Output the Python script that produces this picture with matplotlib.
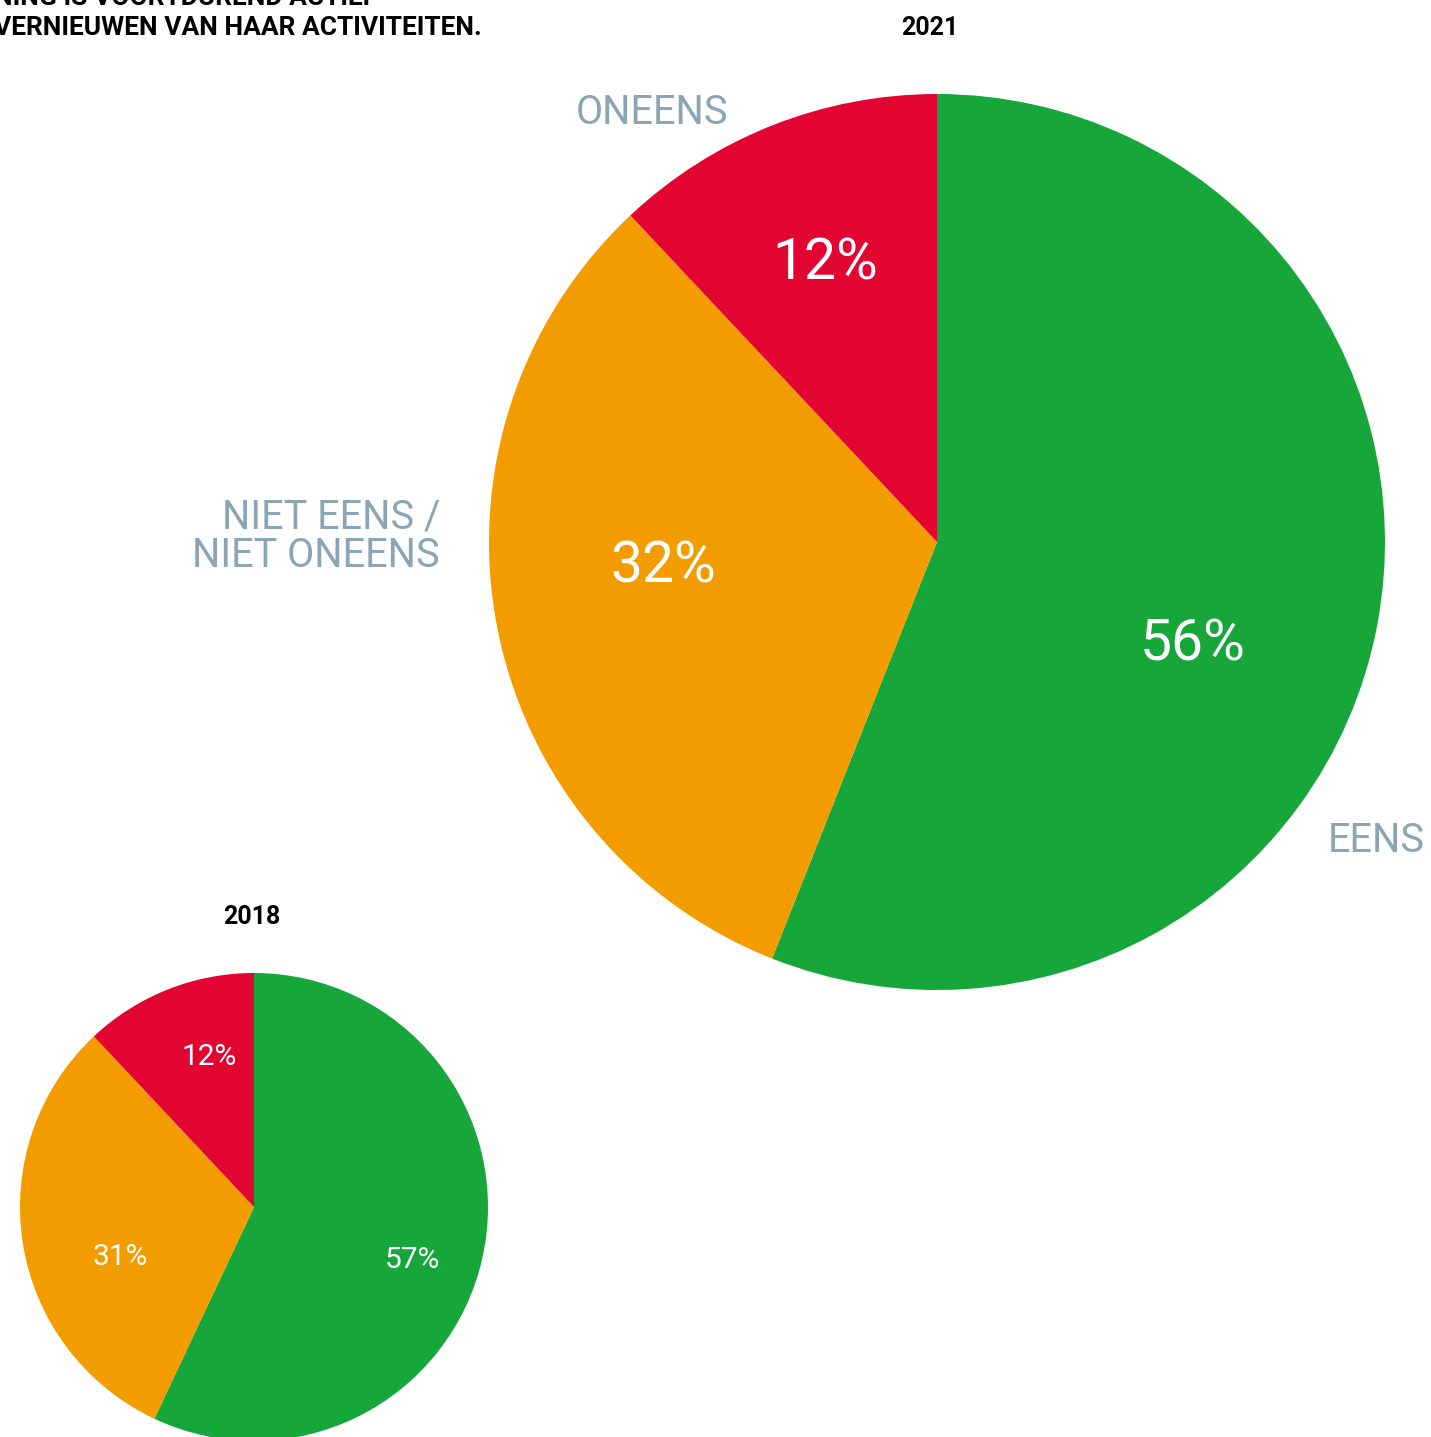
import matplotlib.pyplot as plt

categories = ['EENS', 'NIET EENS /\nNIET ONEENS', 'ONEENS']
values_2021 = [56, 32, 12]
values_2018 = [57, 31, 12]
colors = ['#17a63a', '#f39c00', '#e30531']
title_lines = ['NING IS VOORTDUREND ACTIEF', 'VERNIEUWEN VAN HAAR ACTIVITEITEN.']

W, H = 1431, 1437
fig = plt.figure(figsize=(W / 100, H / 100), dpi=100)
fig.patch.set_facecolor('white')


def pie_axes(cx, cy, r):
    # cx, cy, r in pixels, top-left origin
    return fig.add_axes([(cx - r) / W, (H - cy - r) / H, 2 * r / W, 2 * r / H])


def draw_pie(ax, vals, label_pos, fs):
    ax.pie(vals, colors=colors, startangle=90, counterclock=False,
           radius=1, wedgeprops=dict(linewidth=0))
    ax.set_xlim(-1, 1)
    ax.set_ylim(-1, 1)
    ax.set_aspect('equal')
    ax.axis('off')
    for v, (x, y) in zip(vals, label_pos):
        ax.text(x, y, f'{v}%', color='white', fontsize=fs, ha='center',
                va='center', family='Roboto')


# 2021 (large)
ax1 = pie_axes(937, 542, 448)
draw_pie(ax1, values_2021, [(0.57, -0.23), (-0.61, -0.055), (-0.25, 0.62)], 41)

# 2018 (small)
ax2 = pie_axes(254, 1207, 234)
draw_pie(ax2, values_2018, [(0.675, -0.225), (-0.57, -0.215), (-0.19, 0.64)], 21.5)

grey = '#8ca5b4'
fig.text(728 / W, 1 - 112 / H, categories[2], color=grey, fontsize=28.5,
         ha='right', va='center', family='Roboto')
fig.text(1425 / W, 1 - 840 / H, categories[0], color=grey, fontsize=28.5,
         ha='right', va='center', family='Roboto')
fig.text(440 / W, 1 - 536 / H, categories[1], color=grey, fontsize=28.5,
         ha='right', va='center', family='Roboto',
         multialignment='right', linespacing=0.98)

fig.text(930 / W, 1 - 28 / H, '2021', fontsize=18, fontweight='bold',
         ha='center', va='center', family='Roboto')
fig.text(252 / W, 1 - 917 / H, '2018', fontsize=18, fontweight='bold',
         ha='center', va='center', family='Roboto')

fig.text(-6 / W, 1 - 5 / H, title_lines[0], fontsize=19, fontweight='bold',
         ha='left', va='baseline', family='Roboto')
fig.text(-6 / W, 1 - 35 / H, title_lines[1], fontsize=19, fontweight='bold',
         ha='left', va='baseline', family='Roboto')

fig.savefig('out.png', dpi=100, facecolor='white')
